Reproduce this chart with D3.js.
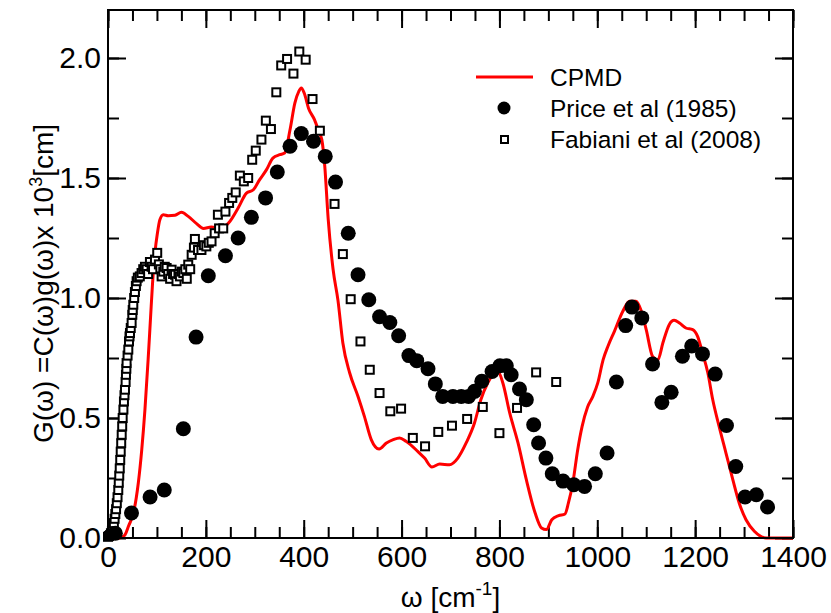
<!DOCTYPE html>
<html>
<head>
<meta charset="utf-8">
<script src="https://cdn.jsdelivr.net/npm/d3@7"></script>
<style>
  body { margin: 0; background: #fff; }
  text { font-family: "Liberation Sans", Arial, sans-serif; }
</style>
</head>
<body>
<div id="chart"></div>
<script>
'use strict'

// CPMD spectrum (red line), [omega, G]
const cpmd = [[0,0],[20,0],[30,0.005],[35,0.014],[42,0.05],[52,0.104],[62,0.23],[69,0.368],[75.5,0.535],[82,0.743],[87,0.92],[91,1.06],[96,1.19],[101,1.27],[106,1.326],[113,1.347],[123,1.343],[137,1.345],[150,1.357],[164,1.34],[181,1.31],[195,1.29],[211,1.296],[231,1.29],[249,1.319],[266,1.375],[283,1.437],[297,1.451],[310,1.493],[324,1.535],[337,1.583],[351,1.597],[361,1.604],[372,1.701],[382,1.813],[390,1.861],[395,1.875],[401,1.854],[410,1.79],[422,1.743],[432,1.687],[437,1.66],[443,1.55],[450,1.33],[460,1.12],[470,0.99],[480,0.8125],[494,0.6875],[511,0.59],[524,0.507],[538,0.41],[554,0.371],[569,0.396],[583,0.41],[596,0.417],[609,0.403],[633,0.361],[647,0.333],[662,0.296],[678,0.308],[698,0.305],[715,0.333],[732,0.396],[749,0.479],[762,0.576],[776,0.646],[790,0.6875],[797,0.694],[807,0.646],[821,0.521],[838,0.396],[855,0.243],[873,0.104],[886,0.042],[896,0.035],[907,0.076],[921,0.093],[934,0.1],[941,0.146],[950,0.229],[960,0.368],[969,0.465],[980,0.545],[991,0.59],[1001,0.646],[1012,0.743],[1022,0.8],[1035,0.861],[1052,0.944],[1066,0.986],[1079,0.986],[1089,0.951],[1100,0.868],[1113,0.757],[1124,0.743],[1134,0.8125],[1147,0.889],[1157,0.907],[1168,0.896],[1181,0.875],[1195,0.868],[1205,0.84],[1215,0.771],[1226,0.6875],[1236,0.576],[1249,0.465],[1263,0.354],[1277,0.243],[1290,0.146],[1304,0.076],[1321,0.028],[1334,0.007],[1345,0],[1400,0]]

// Price et al (1985), filled circles
const price = [[15,0.02],[48,0.104],[86,0.171],[115,0.2],[154,0.455],[180,0.837],[205,1.093],[240,1.176],[266,1.25],[293,1.336],[322,1.417],[346,1.525],[372,1.632],[395,1.685],[420,1.653],[444,1.59],[465,1.483],[491,1.27],[511,1.097],[533,0.993],[555,0.922],[576,0.898],[594,0.843],[615,0.76],[631,0.739],[654,0.705],[669,0.642],[684,0.59],[705,0.59],[722,0.59],[737,0.59],[749,0.611],[764,0.653],[785,0.694],[801,0.718],[814,0.718],[824,0.68],[841,0.621],[855,0.576],[870,0.472],[880,0.396],[895,0.333],[908,0.268],[930,0.237],[952,0.222],[974,0.215],[996,0.268],[1020,0.354],[1039,0.65],[1058,0.885],[1071,0.962],[1091,0.917],[1113,0.725],[1132,0.565],[1151,0.607],[1174,0.757],[1193,0.8],[1215,0.767],[1241,0.683],[1264,0.469],[1283,0.298],[1302,0.171],[1325,0.18],[1348,0.129]]

// Fabiani et al (2008), open squares
const fabiani = [[0,0.005],[2,0.008],[4,0.012],[6,0.02],[8,0.03],[10,0.045],[12,0.062],[13.5,0.08],[15,0.1],[16.5,0.12],[18,0.145],[19.5,0.17],[21,0.2],[22,0.23],[23,0.26],[24,0.29],[25,0.325],[26,0.36],[27,0.395],[28,0.43],[29,0.465],[30,0.5],[31.5,0.535],[32.6,0.569],[33.7,0.595],[34.7,0.618],[36,0.65],[36.7,0.68],[37.5,0.705],[38,0.729],[40,0.76],[41.5,0.785],[42.9,0.819],[44,0.84],[44.9,0.854],[46.5,0.875],[48.3,0.896],[49.7,0.93],[50.5,0.95],[51.7,0.972],[53.5,1.0],[55,1.025],[57,1.05],[58.5,1.07],[61,1.085],[65,1.09],[68.6,1.104],[72,1.12],[75.5,1.13],[79,1.12],[82,1.1],[85.7,1.15],[89,1.13],[92,1.12],[96,1.16],[100.6,1.188],[104,1.14],[107,1.12],[109.6,1.09],[113,1.11],[116,1.13],[119.8,1.125],[123,1.1],[127,1.08],[130,1.118],[133,1.1],[137,1.097],[140,1.07],[144,1.1],[147,1.09],[151,1.11],[154,1.104],[158,1.12],[161,1.08],[164,1.139],[168,1.12],[171,1.18],[175.6,1.21],[177.6,1.246],[184,1.2],[191,1.2],[196,1.22],[201,1.215],[206,1.23],[211.6,1.236],[218,1.27],[224.6,1.347],[227,1.29],[235.5,1.29],[240,1.36],[247.5,1.396],[254,1.417],[261,1.44],[269.5,1.51],[277.6,1.486],[286.5,1.5],[294.7,1.576],[302,1.614],[313.6,1.66],[322.6,1.739],[333,1.704],[344,1.857],[354,1.969],[366,1.996],[379,1.935],[391,2.027],[404,1.993],[418,1.829],[433,1.697],[463,1.392],[480,1.183],[496,0.995],[516,0.819],[535,0.701],[555,0.604],[577,0.528],[599,0.539],[623,0.417],[648,0.382],[675,0.442],[703,0.468],[734,0.496],[766,0.546],[800,0.437],[836,0.542],[875,0.69],[916,0.65]]

const xMajor = [0, 200, 400, 600, 800, 1000, 1200, 1400]
const xMinor = d3.range(0, 1401, 50)
const yMajor = [0, 0.5, 1.0, 1.5, 2.0]
const yMinor = d3.range(0, 2.2, 0.25)

const legendNames = ['CPMD', 'Price et al (1985)', 'Fabiani et al (2008)']

const svgWidth = 831, svgHeight = 613
const margin = {left: 108, right: 38, top: 10, bottom: 75}
const width = svgWidth - margin.left - margin.right
const height = svgHeight - margin.top - margin.bottom

const x = d3.scaleLinear().domain([0, 1400]).range([0, width])
const y = d3.scaleLinear().domain([0, 2.2]).range([height, 0])

const narrow = '"Liberation Sans Narrow", "Arial Narrow", "Liberation Sans", Arial, sans-serif'

const svg = d3.select('#chart').append('svg')
    .attr('width', svgWidth)
    .attr('height', svgHeight)
  .append('g')
    .attr('transform', `translate(${margin.left},${margin.top})`)

const major = 18, minor = 11

// ticks pointing inward on all four sides
function addAxis(axis, tx, ty, labels) {
  const g = svg.append('g').attr('transform', `translate(${tx},${ty})`).call(axis)
  g.select('.domain').remove()
  g.selectAll('line').attr('stroke', '#000').attr('stroke-width', 2)
  if (!labels) g.selectAll('text').remove()
  else g.selectAll('text').attr('font-size', 30).attr('fill', '#000')
      .attr('font-family', narrow)
  return g
}

addAxis(d3.axisBottom(x).tickValues(xMinor).tickSize(-minor), 0, height, false)
addAxis(d3.axisBottom(x).tickValues(xMajor).tickSize(-major).tickPadding(8).tickFormat(d3.format('d')), 0, height, true)
addAxis(d3.axisTop(x).tickValues(xMinor).tickSize(-minor), 0, 0, false)
addAxis(d3.axisTop(x).tickValues(xMajor).tickSize(-major), 0, 0, false)
addAxis(d3.axisLeft(y).tickValues(yMinor).tickSize(-minor), 0, 0, false)
addAxis(d3.axisLeft(y).tickValues(yMajor).tickSize(-major).tickPadding(7).tickFormat(d3.format('.1f')), 0, 0, true)
addAxis(d3.axisRight(y).tickValues(yMinor).tickSize(-minor), width, 0, false)
addAxis(d3.axisRight(y).tickValues(yMajor).tickSize(-major), width, 0, false)

// CPMD line
svg.append('path')
    .datum(cpmd)
    .attr('fill', 'none')
    .attr('stroke', '#ff0000')
    .attr('stroke-width', 3)
    .attr('stroke-linejoin', 'round')
    .attr('d', d3.line().x(d => x(d[0])).y(d => y(d[1])).curve(d3.curveMonotoneX))

const sq = 8
svg.append('g')
  .selectAll('rect')
  .data(fabiani)
  .join('rect')
    .attr('x', d => x(d[0]) - sq / 2)
    .attr('y', d => y(d[1]) - sq / 2)
    .attr('width', sq)
    .attr('height', sq)
    .attr('fill', '#fff')
    .attr('stroke', '#000')
    .attr('stroke-width', 2)

svg.append('g')
  .selectAll('circle')
  .data(price)
  .join('circle')
    .attr('cx', d => x(d[0]))
    .attr('cy', d => y(d[1]))
    .attr('r', 7.5)
    .attr('fill', '#000')

// frame
svg.append('rect')
    .attr('width', width)
    .attr('height', height)
    .attr('fill', 'none')
    .attr('stroke', '#000')
    .attr('stroke-width', 2)

// legend
const lg = svg.append('g').attr('transform', `translate(${476 - margin.left},${77 - margin.top})`)
lg.append('line').attr('x1', 0).attr('x2', 57).attr('y1', 0).attr('y2', 0)
    .attr('stroke', '#ff0000').attr('stroke-width', 3)
lg.append('circle').attr('cx', 28).attr('cy', 31).attr('r', 6.5).attr('fill', '#000')
lg.append('rect').attr('x', 25).attr('y', 59).attr('width', 7).attr('height', 7)
    .attr('fill', '#fff').attr('stroke', '#000').attr('stroke-width', 2)
lg.selectAll('text.leg')
  .data(legendNames)
  .join('text')
    .attr('class', 'leg')
    .attr('x', 74)
    .attr('y', (d, i) => i * 31)
    .attr('dy', '0.35em')
    .attr('font-size', 24.5)
    .text(d => d)

// axis titles
const xt = svg.append('text')
    .attr('x', width / 2)
    .attr('y', height + 69)
    .attr('text-anchor', 'middle')
    .attr('font-size', 28)
    .attr('font-family', narrow)
xt.append('tspan').text('\u03c9 [cm')
xt.append('tspan').attr('font-size', 19).attr('dy', -12).text('-1')
xt.append('tspan').attr('dy', 12).text(']')

const yt = svg.append('text')
    .attr('transform', `translate(${53 - margin.left},${443 - margin.top}) rotate(-90)`)
    .attr('text-anchor', 'start')
    .attr('font-size', 28)
yt.append('tspan').text('G(\u03c9) =C(\u03c9)g(\u03c9)x 10')
yt.append('tspan').attr('font-size', 18).attr('dy', -11).text('3')
yt.append('tspan').attr('dy', 11).text('[cm]')
</script>
</body>
</html>
